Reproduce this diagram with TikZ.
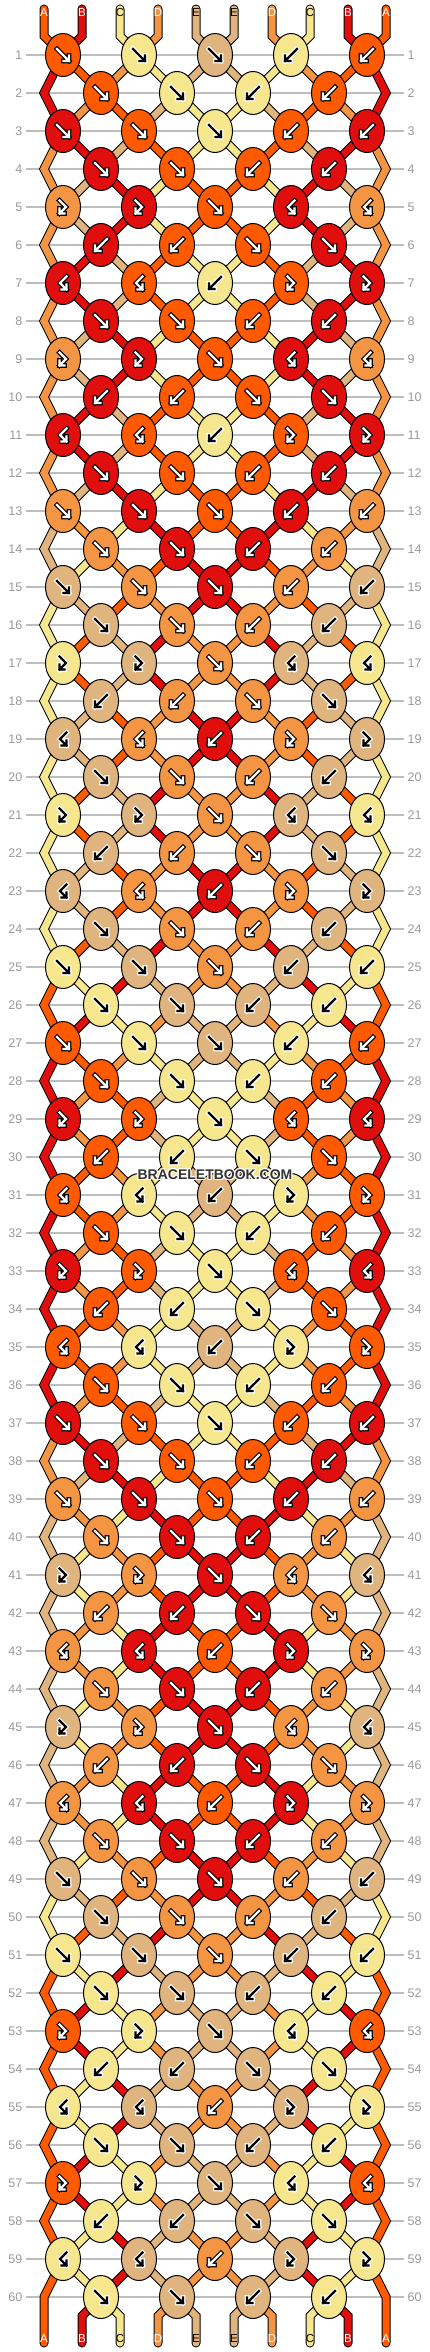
\documentclass[tikz,border=0pt]{standalone}
\usepackage{fontspec}
\setmainfont{Liberation Sans}
\usetikzlibrary{shapes.geometric}
\definecolor{cA}{HTML}{FF5A00}
\definecolor{cB}{HTML}{E10E0E}
\definecolor{cC}{HTML}{F6E78E}
\definecolor{cD}{HTML}{F39542}
\definecolor{cE}{HTML}{DFB47E}
\definecolor{numgray}{HTML}{9A9A9A}
\definecolor{linegray}{HTML}{BEBEBE}
\definecolor{wmark}{HTML}{333333}
\def\arA{white}\def\arB{white}\def\arC{black}\def\arD{white}\def\arE{black}
\def\olA{black}\def\olB{black}\def\olC{white}\def\olD{black}\def\olE{white}
\def\txA{white}\def\txB{white}\def\txC{black}\def\txD{white}\def\txE{black}
\expandafter\def\csname pat0\endcsname{f,f,f,b,b}
\expandafter\def\csname pat1\endcsname{f,f,b,b}
\expandafter\def\csname pat2\endcsname{f,f,f,b,b}
\expandafter\def\csname pat3\endcsname{f,f,b,b}
\expandafter\def\csname pat4\endcsname{F,F,f,B,B}
\expandafter\def\csname pat5\endcsname{b,b,f,f}
\expandafter\def\csname pat6\endcsname{B,B,b,F,F}
\expandafter\def\csname pat7\endcsname{f,f,b,b}
\expandafter\def\csname pat8\endcsname{F,F,f,B,B}
\expandafter\def\csname pat9\endcsname{b,b,f,f}
\expandafter\def\csname pat10\endcsname{B,B,b,F,F}
\expandafter\def\csname pat11\endcsname{f,f,b,b}
\newif\ifknotpass
\tikzset{
  knot/.style={ellipse, draw=black, line width=1pt, minimum width=35pt, minimum height=43pt, inner sep=0pt},
  rowline/.style={draw=linegray, line width=1.2pt},
  rownum/.style={text=numgray, inner sep=0pt, font=\fontsize{12.5}{14}\selectfont},
  endlabel/.style={inner sep=0pt, font=\fontsize{11.5}{13}\selectfont},
  gout/.style={line width=4.6pt, draw=#1, line cap=rect, line join=miter},
  gin/.style={line width=2.4pt, draw=#1, line cap=rect, line join=miter},
  wm/.style={font=\bfseries\fontsize{14}{16}\selectfont, inner sep=0pt},
}
\newcommand\strand[2]{%
  \draw[line width=9pt, black, line join=miter, line cap=round] #2;
  \draw[line width=7pt, #1, line join=miter, line cap=round] #2;}
\newcommand\gpath[2]{%
  \if#1f\draw[#2] (-6,-6) -- (6,6) (0.5,6) -- (6,6) -- (6,0.5);\fi
  \if#1b\draw[#2] (6,-6) -- (-6,6) (-0.5,6) -- (-6,6) -- (-6,0.5);\fi
  \if#1F\draw[#2] (-3.5,-6.5) -- (3,0) -- (-3.5,6.5) (-3.5,1.5) -- (-3.5,6.5) -- (1.5,6.5);\fi
  \if#1B\draw[#2] (3.5,-6.5) -- (-3,0) -- (3.5,6.5) (3.5,1.5) -- (3.5,6.5) -- (-1.5,6.5);\fi}
\newcommand\glyph[3]{%
  \edef\gol{\csname ol#2\endcsname}%
  \edef\gar{\csname ar#2\endcsname}%
  \begin{scope}[shift={(#3.center)}]
    \gpath{#1}{gout=\gol}
    \gpath{#1}{gin=\gar}
  \end{scope}}
\newcommand\resetstrings{%
  \foreach \p/\c in {1/A,2/B,3/C,4/D,5/E,6/E,7/D,8/C,9/B,10/A}{%
    \expandafter\xdef\csname s\p\endcsname{\c}}}
\newcommand\runrows{%
\foreach \r in {1,...,60}{
  \pgfmathtruncatemacro\m{mod(\r-1,12)}
  \pgfmathtruncatemacro\rn{\r+1}
  \pgfmathtruncatemacro\rnn{\r+2}
  \expandafter\let\expandafter\pat\csname pat\m\endcsname
  \foreach \t [count=\k] in \pat {
    \ifodd\r\relax
      \pgfmathtruncatemacro\i{2*\k-1}
      \pgfmathtruncatemacro\kl{\k-1}
      \pgfmathtruncatemacro\kr{\k}
    \else
      \pgfmathtruncatemacro\i{2*\k}
      \pgfmathtruncatemacro\kl{\k}
      \pgfmathtruncatemacro\kr{\k+1}
    \fi
    \pgfmathtruncatemacro\j{\i+1}
    \edef\lc{\csname s\i\endcsname}%
    \edef\rc{\csname s\j\endcsname}%
    \let\kc\rc
    \if\t f\let\kc\lc\fi
    \if\t F\let\kc\lc\fi
    \if\t f\expandafter\xdef\csname s\i\endcsname{\rc}\expandafter\xdef\csname s\j\endcsname{\lc}\fi
    \if\t b\expandafter\xdef\csname s\i\endcsname{\rc}\expandafter\xdef\csname s\j\endcsname{\lc}\fi
    \edef\lo{\csname s\i\endcsname}%
    \edef\ro{\csname s\j\endcsname}%
    \ifknotpass
      \node[knot, fill=c\kc] (k-\r-\k) at (c-\r-\k) {};
      \glyph{\t}{\kc}{k-\r-\k}
    \else
    \ifnum\r<60
      \ifnum\kl=0
        \ifnum\rn<60
          \strand{c\lo}{(c-\r-\k) -- (eL-\rn) -- (c-\rnn-1)}
        \else
          \strand{c\lo}{(c-\r-\k) -- (eL-\rn) -- (bot-1)}
        \fi
      \else
        \strand{c\lo}{(c-\r-\k) -- (c-\rn-\kl)}
      \fi
      \ifnum\j=10
        \ifnum\rn<60
          \strand{c\ro}{(c-\r-\k) -- (eR-\rn) -- (c-\rnn-5)}
        \else
          \strand{c\ro}{(c-\r-\k) -- (eR-\rn) -- (bot-10)}
        \fi
      \else
        \strand{c\ro}{(c-\r-\k) -- (c-\rn-\kr)}
      \fi
    \else
      \strand{c\lo}{(c-\r-\k) -- (botc-\i) -- (bot-\i)}
      \strand{c\ro}{(c-\r-\k) -- (botc-\j) -- (bot-\j)}
    \fi
    \fi
  }
}}
\begin{document}
\begin{tikzpicture}[x=1pt,y=-1pt]
\useasboundingbox (0,0) rectangle (430,2352);
% row coordinates, grid lines, row numbers
\foreach \r in {1,...,60}{
  \pgfmathsetmacro\y{55+38*(\r-1)}
  \ifodd\r\relax
    \foreach \k in {1,...,5}{\coordinate (c-\r-\k) at ({63+76*(\k-1)},\y);}
  \else
    \foreach \k in {1,...,4}{\coordinate (c-\r-\k) at ({101+76*(\k-1)},\y);}
    \coordinate (eL-\r) at (44,\y);
    \coordinate (eR-\r) at (386,\y);
  \fi
  \draw[rowline] (26,\y) -- (404,\y);
  \node[rownum, anchor=east] (ln-\r) at (22.5,\y) {\r};
  \node[rownum, anchor=west] (rn-\r) at (407.5,\y) {\r};
}
% string end coordinates
\foreach \p in {1,...,10}{
  \pgfmathsetmacro\xp{44+38*(\p-1)}
  \coordinate (top-\p) at (\xp,9);
  \coordinate (topc-\p) at (\xp,36);
  \coordinate (botc-\p) at (\xp,2316);
  \coordinate (bot-\p) at (\xp,2343);
}
% top string ends
\foreach \p/\c in {1/A,2/B,3/C,4/D,5/E,6/E,7/D,8/C,9/B,10/A}{
  \pgfmathtruncatemacro\kk{(\p+1)/2}
  \strand{c\c}{(top-\p) -- (topc-\p) -- (c-1-\kk)}
}
% pass 1: strings
\knotpassfalse
\resetstrings
\runrows
% pass 2: knots
\knotpasstrue
\resetstrings
\runrows
% end labels
\foreach \p/\c in {1/A,2/B,3/C,4/D,5/E,6/E,7/D,8/C,9/B,10/A}{
  \pgfmathsetmacro\xp{44+38*(\p-1)}
  \edef\tcol{\csname tx\c\endcsname}
  \node[endlabel, text=\tcol] (tl-\p) at (\xp,12.5) {\c};
  \node[endlabel, text=\tcol] (bl-\p) at (\xp,2339) {\c};
}
% watermark
\foreach \dx/\dy in {-1/-1,0/-1,1/-1,-1/0,1/0,-1/1,0/1,1/1}{
  \node[wm, text=white] at ({215+\dx},{1175+\dy}) {BRACELETBOOK.COM};
}
\node[wm, text=wmark] (wmk) at (215,1175) {BRACELETBOOK.COM};
\end{tikzpicture}
\end{document}
